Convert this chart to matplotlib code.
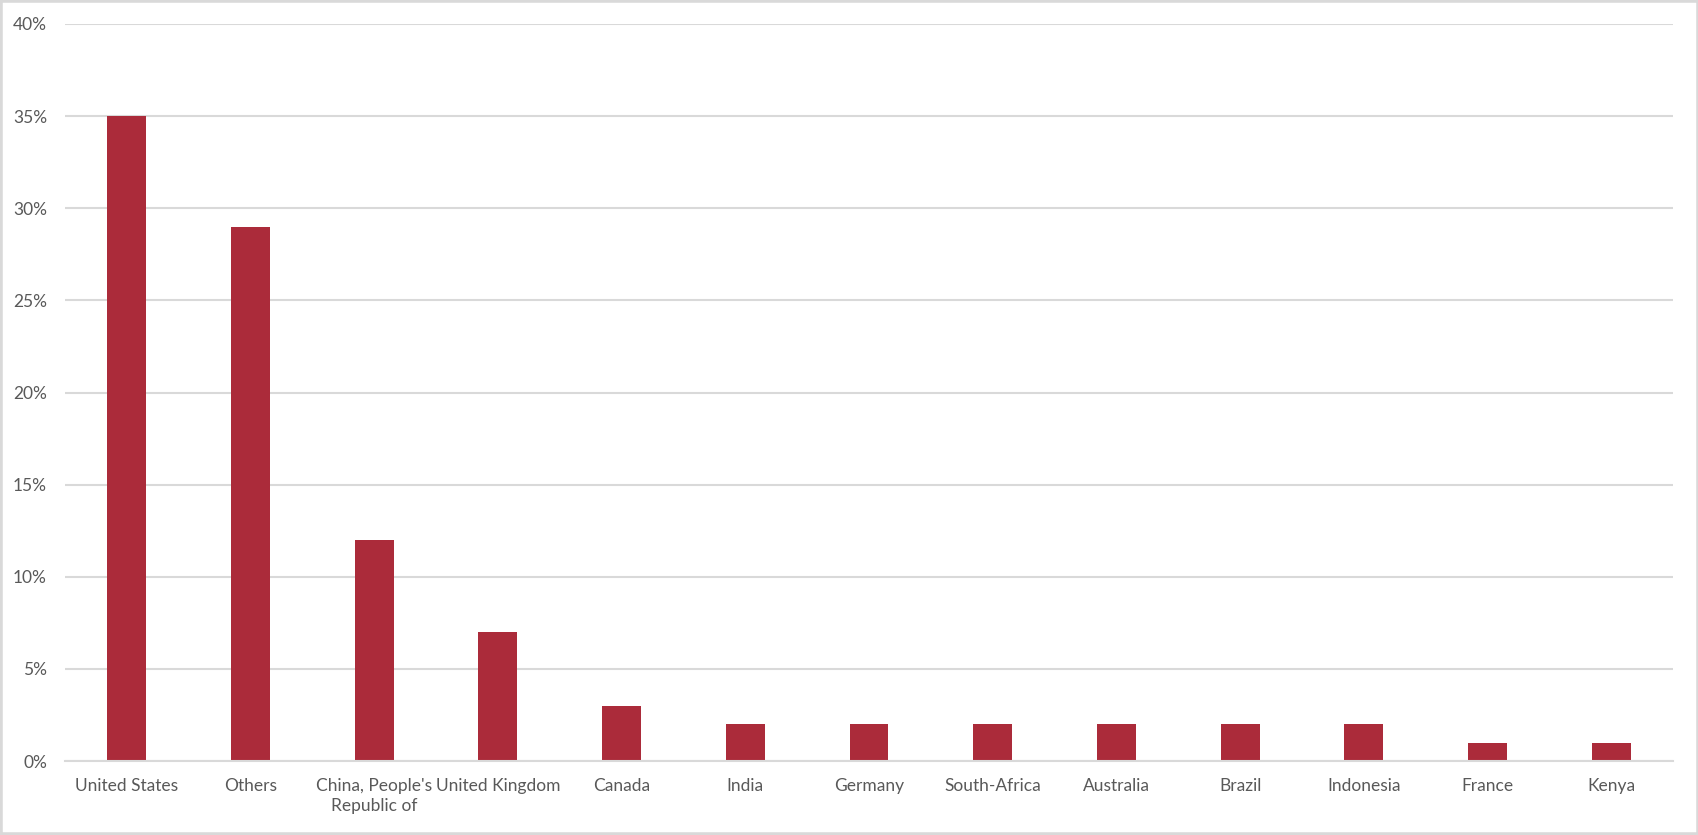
import matplotlib
matplotlib.use("Agg")
import matplotlib.pyplot as plt
from matplotlib.patches import Rectangle
from matplotlib.ticker import FuncFormatter, MultipleLocator

categories = ["United States", "Others", "China, People's\nRepublic of", "United Kingdom",
              "Canada", "India", "Germany", "South-Africa", "Australia", "Brazil",
              "Indonesia", "France", "Kenya"]
values = [0.35, 0.29, 0.12, 0.07, 0.03, 0.02, 0.02, 0.02, 0.02, 0.02, 0.02, 0.01, 0.01]

plt.rcParams['font.family'] = ['Lato', 'DejaVu Sans']
text_color = '#595959'
grid_color = '#d9d9d9'
bar_color = '#AB2B3A'

W, H = 1699, 835
fig = plt.figure(figsize=(W / 100, H / 100), dpi=100)
ax = fig.add_axes([65 / W, (H - 761) / H, (1673 - 65) / W, (761 - 24) / H])

x = list(range(len(categories)))
ax.bar(x, values, width=0.315, color=bar_color, zorder=3)

ax.set_xlim(-0.5, len(categories) - 0.5)
ax.set_ylim(0, 0.40)
ax.yaxis.set_major_locator(MultipleLocator(0.05))
ax.yaxis.set_major_formatter(FuncFormatter(lambda v, p: f"{v * 100:.0f}%"))
ax.grid(axis='y', color=grid_color, linewidth=1.5, zorder=0)
ax.set_xticks(x)
ax.set_xticklabels(categories, linespacing=1.3)

for s in ['top', 'right', 'left']:
    ax.spines[s].set_visible(False)
ax.spines['bottom'].set_color(grid_color)
ax.spines['bottom'].set_linewidth(1.5)
ax.spines['bottom'].set_zorder(4)

ax.tick_params(axis='both', length=0, colors=text_color, labelsize=12.5)
ax.tick_params(axis='y', pad=13)
ax.tick_params(axis='x', pad=12)

fig.patches.append(Rectangle((0, 0), 1, 1, transform=fig.transFigure, fill=False,
                             edgecolor='#d9d9d9', linewidth=4, zorder=10))

fig.savefig("out.png", dpi=100, facecolor='white')
